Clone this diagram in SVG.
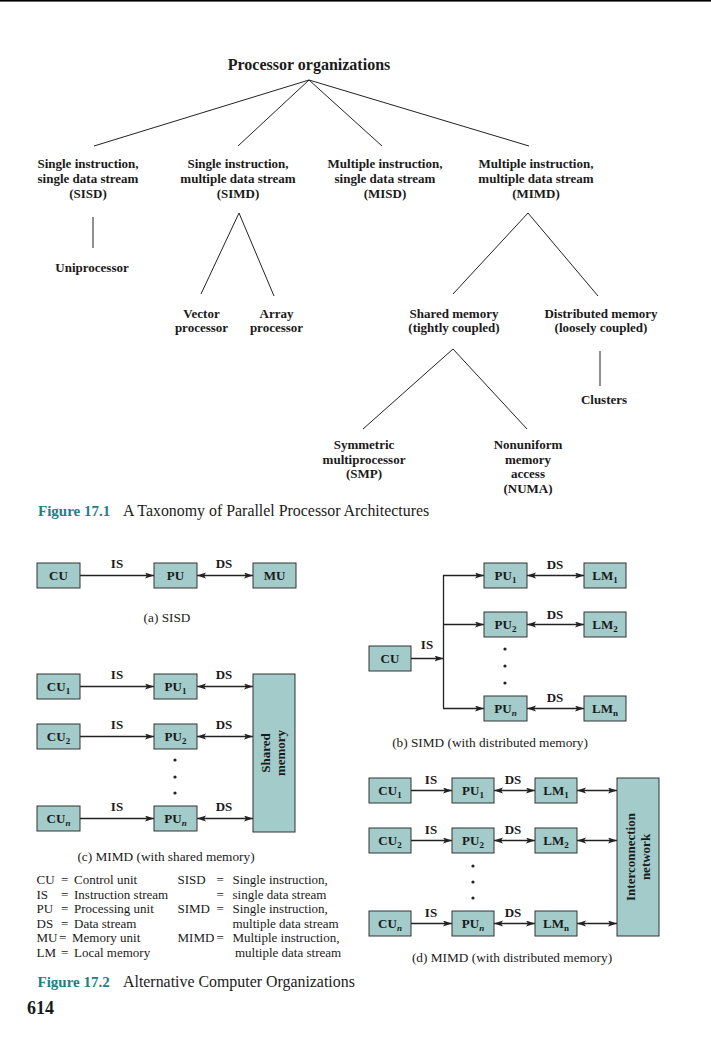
<svg xmlns="http://www.w3.org/2000/svg" width="711" height="1048" viewBox="0 0 711 1048">
<style>
text{font-family:"Liberation Serif","Times New Roman",serif;fill:#1a1a1a}
.b{font-weight:bold}
.t13{font-size:13px}
.m{text-anchor:middle}
.box{fill:#a2cbca;stroke:#333;stroke-width:1}
.lbl{font-weight:bold;font-size:13px;text-anchor:middle}
.sub{font-size:9px}
.tree line{stroke:#222;stroke-width:1}
.ar{stroke:#222;stroke-width:1.3;fill:none}
.one{marker-end:url(#ah)}
.two{marker-end:url(#ah);marker-start:url(#ah)}
.cap{font-size:13.3px;text-anchor:middle}
.fig{font-weight:bold;fill:#1e7f86;font-size:15px}
.figt{font-size:15.9px}
.lg{font-size:13px}
</style>
<defs>
<marker id="ah" markerUnits="userSpaceOnUse" markerWidth="10" markerHeight="8" refX="9" refY="3" orient="auto-start-reverse">
<path d="M0,0 L9,3 L0,6 L2,3 z" fill="#222"/>
</marker>
</defs>
<rect x="0" y="0" width="711" height="1.6" fill="#000"/>

<!-- Figure 17.1 taxonomy -->
<g id="connectors-tree" class="tree">
<line x1="309" y1="80" x2="94" y2="146"/>
<line x1="309" y1="80" x2="238" y2="146"/>
<line x1="309" y1="80" x2="382" y2="146"/>
<line x1="309" y1="80" x2="529" y2="146"/>
<line x1="93" y1="217" x2="93" y2="248"/>
<line x1="239" y1="213" x2="201" y2="294"/>
<line x1="239" y1="213" x2="274" y2="296"/>
<line x1="528" y1="213" x2="453" y2="294"/>
<line x1="528" y1="213" x2="598" y2="296"/>
<line x1="453" y1="349" x2="363" y2="429"/>
<line x1="453" y1="349" x2="527" y2="429"/>
<line x1="600" y1="351" x2="600" y2="386"/>
</g>
<g id="n-root"><text class="b m" x="309" y="70" style="font-size:16px">Processor organizations</text></g>
<g id="n-sisd"><text class="b t13 m" x="88" y="167.5">Single instruction,</text><text class="b t13 m" x="88" y="182.5">single data stream</text><text class="b t13 m" x="88" y="197.5">(SISD)</text></g>
<g id="n-simd"><text class="b t13 m" x="238" y="167.5">Single instruction,</text><text class="b t13 m" x="238" y="182.5">multiple data stream</text><text class="b t13 m" x="238" y="197.5">(SIMD)</text></g>
<g id="n-misd"><text class="b t13 m" x="385" y="167.5">Multiple instruction,</text><text class="b t13 m" x="385" y="182.5">single data stream</text><text class="b t13 m" x="385" y="197.5">(MISD)</text></g>
<g id="n-mimd"><text class="b t13 m" x="536" y="167.5">Multiple instruction,</text><text class="b t13 m" x="536" y="182.5">multiple data stream</text><text class="b t13 m" x="536" y="197.5">(MIMD)</text></g>
<g id="n-uni"><text class="b t13 m" x="92" y="272">Uniprocessor</text></g>
<g id="n-vector"><text class="b t13 m" x="201.5" y="317.5">Vector</text><text class="b t13 m" x="201.5" y="332">processor</text></g>
<g id="n-array"><text class="b t13 m" x="276.5" y="317.5">Array</text><text class="b t13 m" x="276.5" y="332">processor</text></g>
<g id="n-shared"><text class="b t13 m" x="454" y="317.5">Shared memory</text><text class="b t13 m" x="454" y="332">(tightly coupled)</text></g>
<g id="n-dist"><text class="b t13 m" x="601" y="317.5">Distributed memory</text><text class="b t13 m" x="601" y="332">(loosely coupled)</text></g>
<g id="n-clusters"><text class="b t13 m" x="604" y="404">Clusters</text></g>
<g id="n-smp"><text class="b t13 m" x="364" y="449">Symmetric</text><text class="b t13 m" x="364" y="463.5">multiprocessor</text><text class="b t13 m" x="364" y="478">(SMP)</text></g>
<g id="n-numa"><text class="b t13 m" x="528" y="449">Nonuniform</text><text class="b t13 m" x="528" y="463.5">memory</text><text class="b t13 m" x="528" y="478">access</text><text class="b t13 m" x="528" y="492.5">(NUMA)</text></g>
<g id="cap1"><text class="fig" x="38" y="516">Figure 17.1</text><text class="figt" x="123" y="516">A Taxonomy of Parallel Processor Architectures</text></g>

<!-- Connectors of Figure 17.2 -->
<g id="connectors">
<line class="ar one" x1="80" y1="575.5" x2="154" y2="575.5"/>
<line class="ar two" x1="197" y1="575.5" x2="253" y2="575.5"/>
<line class="ar one" x1="411" y1="658.5" x2="443.5" y2="658.5"/>
<line class="ar" x1="443.5" y1="575.5" x2="443.5" y2="708.5"/>
<line class="ar one" x1="443" y1="575.5" x2="484" y2="575.5"/>
<line class="ar one" x1="443" y1="624.5" x2="484" y2="624.5"/>
<line class="ar one" x1="443" y1="708.5" x2="484" y2="708.5"/>
<line class="ar two" x1="527" y1="575.5" x2="584" y2="575.5"/>
<line class="ar two" x1="527" y1="624.5" x2="584" y2="624.5"/>
<line class="ar two" x1="527" y1="708.5" x2="584" y2="708.5"/>
<line class="ar one" x1="80" y1="686.5" x2="154" y2="686.5"/>
<line class="ar one" x1="80" y1="736.5" x2="154" y2="736.5"/>
<line class="ar one" x1="80" y1="818.5" x2="154" y2="818.5"/>
<line class="ar two" x1="197" y1="686.5" x2="253" y2="686.5"/>
<line class="ar two" x1="197" y1="736.5" x2="253" y2="736.5"/>
<line class="ar two" x1="197" y1="818.5" x2="253" y2="818.5"/>
<line class="ar one" x1="411" y1="790.5" x2="452" y2="790.5"/>
<line class="ar one" x1="411" y1="840.5" x2="452" y2="840.5"/>
<line class="ar one" x1="411" y1="923.5" x2="452" y2="923.5"/>
<line class="ar two" x1="494" y1="790.5" x2="535" y2="790.5"/>
<line class="ar two" x1="494" y1="840.5" x2="535" y2="840.5"/>
<line class="ar two" x1="494" y1="923.5" x2="535" y2="923.5"/>
<line class="ar two" x1="577" y1="790.5" x2="617" y2="790.5"/>
<line class="ar two" x1="577" y1="840.5" x2="617" y2="840.5"/>
<line class="ar two" x1="577" y1="923.5" x2="617" y2="923.5"/>
</g>
<g id="edge-labels">
<text class="lbl" x="117" y="568">IS</text><text class="lbl" x="224" y="568">DS</text>
<text class="lbl" x="427" y="649">IS</text>
<text class="lbl" x="555" y="569">DS</text><text class="lbl" x="555" y="619">DS</text><text class="lbl" x="555" y="702">DS</text>
<text class="lbl" x="117" y="679">IS</text><text class="lbl" x="224" y="679">DS</text>
<text class="lbl" x="117" y="729">IS</text><text class="lbl" x="224" y="729">DS</text>
<text class="lbl" x="117" y="811">IS</text><text class="lbl" x="224" y="811">DS</text>
<text class="lbl" x="431" y="784">IS</text><text class="lbl" x="513" y="784">DS</text>
<text class="lbl" x="431" y="834">IS</text><text class="lbl" x="513" y="834">DS</text>
<text class="lbl" x="431" y="917">IS</text><text class="lbl" x="513" y="917">DS</text>
</g>
<g id="dots" fill="#222">
<circle cx="505" cy="649" r="1.6"/><circle cx="505" cy="666" r="1.6"/><circle cx="505" cy="683" r="1.6"/>
<circle cx="175" cy="760" r="1.6"/><circle cx="175" cy="777" r="1.6"/><circle cx="175" cy="793" r="1.6"/>
<circle cx="473" cy="866" r="1.6"/><circle cx="473" cy="882" r="1.6"/><circle cx="473" cy="898" r="1.6"/>
</g>

<!-- (a) SISD -->
<g id="a-cu"><rect class="box" x="37" y="563" width="43" height="25"/><text class="lbl" x="58.5" y="580">CU</text></g>
<g id="a-pu"><rect class="box" x="154" y="563" width="43" height="25"/><text class="lbl" x="175.5" y="580">PU</text></g>
<g id="a-mu"><rect class="box" x="253" y="563" width="43" height="25"/><text class="lbl" x="274.5" y="580">MU</text></g>
<text class="cap" x="167" y="622">(a) SISD</text>

<!-- (b) SIMD -->
<g id="b-cu"><rect class="box" x="369" y="646" width="42" height="25"/><text class="lbl" x="390" y="663">CU</text></g>
<g id="b-pu1"><rect class="box" x="484" y="563" width="43" height="25"/><text class="lbl" x="505.5" y="580">PU<tspan class="sub" dy="2.5">1</tspan></text></g>
<g id="b-pu2"><rect class="box" x="484" y="612" width="43" height="25"/><text class="lbl" x="505.5" y="629">PU<tspan class="sub" dy="2.5">2</tspan></text></g>
<g id="b-pun"><rect class="box" x="484" y="696" width="43" height="25"/><text class="lbl" x="505.5" y="713">PU<tspan class="sub" dy="2.5" font-style="italic">n</tspan></text></g>
<g id="b-lm1"><rect class="box" x="584" y="563" width="42" height="25"/><text class="lbl" x="605" y="580">LM<tspan class="sub" dy="2.5">1</tspan></text></g>
<g id="b-lm2"><rect class="box" x="584" y="612" width="42" height="25"/><text class="lbl" x="605" y="629">LM<tspan class="sub" dy="2.5">2</tspan></text></g>
<g id="b-lmn"><rect class="box" x="584" y="696" width="42" height="25"/><text class="lbl" x="605" y="713">LM<tspan class="sub" dy="2.5">n</tspan></text></g>
<text class="cap" x="490" y="747">(b) SIMD (with distributed memory)</text>

<!-- (c) MIMD shared -->
<g id="c-cu1"><rect class="box" x="37" y="674" width="43" height="25"/><text class="lbl" x="58.5" y="691">CU<tspan class="sub" dy="2.5">1</tspan></text></g>
<g id="c-cu2"><rect class="box" x="37" y="724" width="43" height="25"/><text class="lbl" x="58.5" y="741">CU<tspan class="sub" dy="2.5">2</tspan></text></g>
<g id="c-cun"><rect class="box" x="37" y="806" width="43" height="25"/><text class="lbl" x="58.5" y="823">CU<tspan class="sub" dy="2.5" font-style="italic">n</tspan></text></g>
<g id="c-pu1"><rect class="box" x="154" y="674" width="43" height="25"/><text class="lbl" x="175.5" y="691">PU<tspan class="sub" dy="2.5">1</tspan></text></g>
<g id="c-pu2"><rect class="box" x="154" y="724" width="43" height="25"/><text class="lbl" x="175.5" y="741">PU<tspan class="sub" dy="2.5">2</tspan></text></g>
<g id="c-pun"><rect class="box" x="154" y="806" width="43" height="25"/><text class="lbl" x="175.5" y="823">PU<tspan class="sub" dy="2.5" font-style="italic">n</tspan></text></g>
<g id="c-shared"><rect class="box" x="253" y="674" width="42" height="158"/>
<text class="lbl" transform="translate(270,753) rotate(-90)">Shared</text>
<text class="lbl" transform="translate(284.5,753) rotate(-90)">memory</text></g>
<text class="cap" x="166" y="861">(c) MIMD (with shared memory)</text>

<!-- (d) MIMD distributed -->
<g id="d-cu1"><rect class="box" x="369" y="778" width="42" height="25"/><text class="lbl" x="390" y="795">CU<tspan class="sub" dy="2.5">1</tspan></text></g>
<g id="d-cu2"><rect class="box" x="369" y="828" width="42" height="25"/><text class="lbl" x="390" y="845">CU<tspan class="sub" dy="2.5">2</tspan></text></g>
<g id="d-cun"><rect class="box" x="369" y="911" width="42" height="25"/><text class="lbl" x="390" y="928">CU<tspan class="sub" dy="2.5" font-style="italic">n</tspan></text></g>
<g id="d-pu1"><rect class="box" x="452" y="778" width="42" height="25"/><text class="lbl" x="473" y="795">PU<tspan class="sub" dy="2.5">1</tspan></text></g>
<g id="d-pu2"><rect class="box" x="452" y="828" width="42" height="25"/><text class="lbl" x="473" y="845">PU<tspan class="sub" dy="2.5">2</tspan></text></g>
<g id="d-pun"><rect class="box" x="452" y="911" width="42" height="25"/><text class="lbl" x="473" y="928">PU<tspan class="sub" dy="2.5" font-style="italic">n</tspan></text></g>
<g id="d-lm1"><rect class="box" x="535" y="778" width="42" height="25"/><text class="lbl" x="556" y="795">LM<tspan class="sub" dy="2.5">1</tspan></text></g>
<g id="d-lm2"><rect class="box" x="535" y="828" width="42" height="25"/><text class="lbl" x="556" y="845">LM<tspan class="sub" dy="2.5">2</tspan></text></g>
<g id="d-lmn"><rect class="box" x="535" y="911" width="42" height="25"/><text class="lbl" x="556" y="928">LM<tspan class="sub" dy="2.5">n</tspan></text></g>
<g id="d-net"><rect class="box" x="617" y="778" width="42" height="158"/>
<text class="lbl" transform="translate(635,857) rotate(-90)">Interconnection</text>
<text class="lbl" transform="translate(649.5,857) rotate(-90)">network</text></g>
<text class="cap" x="512" y="962">(d) MIMD (with distributed memory)</text>

<!-- Legend -->
<g id="legend" class="lg">
<text class="lg" x="36.5" y="884">CU</text><text class="lg" x="61" y="884">=</text><text class="lg" x="74" y="884">Control unit</text>
<text class="lg" x="36.5" y="898.5">IS</text><text class="lg" x="61" y="898.5">=</text><text class="lg" x="74" y="898.5">Instruction stream</text>
<text class="lg" x="36.5" y="913">PU</text><text class="lg" x="61" y="913">=</text><text class="lg" x="74" y="913">Processing unit</text>
<text class="lg" x="36.5" y="927.5">DS</text><text class="lg" x="61" y="927.5">=</text><text class="lg" x="74" y="927.5">Data stream</text>
<text class="lg" x="36.5" y="942">MU</text><text class="lg" x="59" y="942">=</text><text class="lg" x="72" y="942">Memory unit</text>
<text class="lg" x="36.5" y="956.5">LM</text><text class="lg" x="61" y="956.5">=</text><text class="lg" x="74" y="956.5">Local memory</text>
<text class="lg" x="177.5" y="884">SISD</text><text class="lg" x="216.5" y="884">=</text><text class="lg" x="232.5" y="884">Single instruction,</text>
<text class="lg" x="216.5" y="898.5">=</text><text class="lg" x="232.5" y="898.5">single data stream</text>
<text class="lg" x="177.5" y="913">SIMD</text><text class="lg" x="216.5" y="913">=</text><text class="lg" x="232.5" y="913">Single instruction,</text>
<text class="lg" x="232.5" y="927.5">multiple data stream</text>
<text class="lg" x="177.5" y="942">MIMD</text><text class="lg" x="216.5" y="942">=</text><text class="lg" x="232.5" y="942">Multiple instruction,</text>
<text class="lg" x="235" y="956.5">multiple data stream</text>
</g>
<g id="cap2"><text class="fig" x="37.5" y="986.5">Figure 17.2</text><text class="figt" x="123" y="986.5">Alternative Computer Organizations</text></g>
<text class="b" x="27" y="1014" style="font-size:18px">614</text>
</svg>
